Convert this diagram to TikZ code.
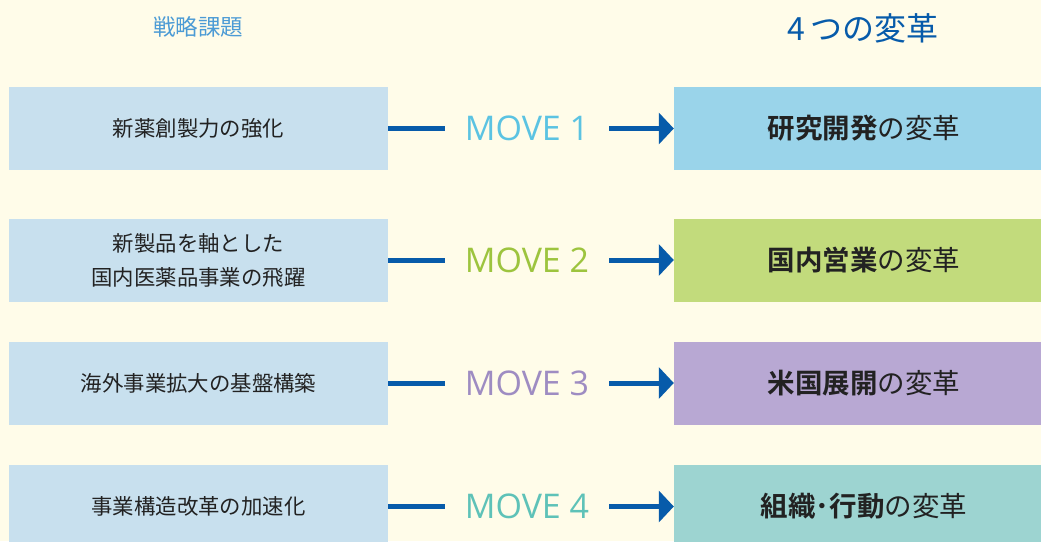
\documentclass[tikz,border=0pt]{standalone}
\usepackage{fontspec}
\setmainfont{Open Sans}
\newfontfamily\jp{Noto Sans CJK JP}[BoldFont={* Bold}]
\usetikzlibrary{arrows.meta}
\definecolor{bg}{HTML}{FFFCE9}
\definecolor{leftbox}{HTML}{C8E0EE}
\definecolor{r1}{HTML}{9AD4EA}
\definecolor{r2}{HTML}{C2DB7C}
\definecolor{r3}{HTML}{B8A8D3}
\definecolor{r4}{HTML}{9DD4D1}
\definecolor{m1}{HTML}{5BC3E2}
\definecolor{m2}{HTML}{9DC43E}
\definecolor{m3}{HTML}{9E8CC2}
\definecolor{m4}{HTML}{5EC2B8}
\definecolor{arrowblue}{HTML}{075BAA}
\definecolor{titleblue}{HTML}{4C9BD5}
\definecolor{txt}{HTML}{222222}
\begin{document}
\begin{tikzpicture}[x=1pt,y=-1pt,
  lbox/.style={fill=leftbox,minimum width=379pt,minimum height=83pt,inner sep=0pt,
    text=txt,font=\jp\fontsize{21.4}{34}\selectfont,align=center},
  rbox/.style={minimum width=367pt,minimum height=83pt,inner sep=0pt,
    text=txt,font=\jp\fontsize{27.5}{30}\selectfont,
    execute at begin node={\hspace*{13pt}}},
  movetxt/.style={font=\fontsize{34}{38}\selectfont,inner xsep=20pt,inner ysep=0pt},
  conn/.style={draw=arrowblue,line width=5pt},
  arr/.style={conn,-{Triangle[length=15pt,width=31pt]}}]
\useasboundingbox (0,0) rectangle (1041,541);
\fill[bg] (0,0) rectangle (1041,541);
\node[text=titleblue,font=\jp\fontsize{22.5}{26}\selectfont] (t1) at (198,27) {戦略課題};
\node[text=arrowblue,font=\jp\fontsize{32}{36}\selectfont] (t2) at (863,28) {4\hspace{6pt}つの変革};
% left boxes
\node[lbox] (L1) at (198.5,128.5) {新薬創製力の強化};
\node[lbox] (L2) at (198.5,260) {新製品を軸とした\\国内医薬品事業の飛躍};
\node[lbox] (L3) at (198.5,383) {海外事業拡大の基盤構築};
\node[lbox] (L4) at (198.5,506.5) {事業構造改革の加速化};
% right boxes
\node[rbox,fill=r1] (R1) at (857.5,128.5) {\textbf{研究開発}の変革};
\node[rbox,fill=r2] (R2) at (857.5,260) {\textbf{国内営業}の変革};
\node[rbox,fill=r3] (R3) at (857.5,383) {\textbf{米国展開}の変革};
\node[rbox,fill=r4] (R4) at (857.5,506.5) {\textbf{組織･行動}の変革};
% move labels
\node[movetxt,text=m1] (M1) at (527,128.5) {MOVE 1};
\node[movetxt,text=m2] (M2) at (527,260) {MOVE 2};
\node[movetxt,text=m3] (M3) at (527,383) {MOVE 3};
\node[movetxt,text=m4] (M4) at (527,506.5) {MOVE 4};
\foreach \i in {1,2,3,4}{
  \draw[conn] (L\i.east) -- (L\i.east -| M\i.west);
  \draw[arr] (M\i.east |- R\i.west) -- (R\i.west);
}
\end{tikzpicture}
\end{document}
